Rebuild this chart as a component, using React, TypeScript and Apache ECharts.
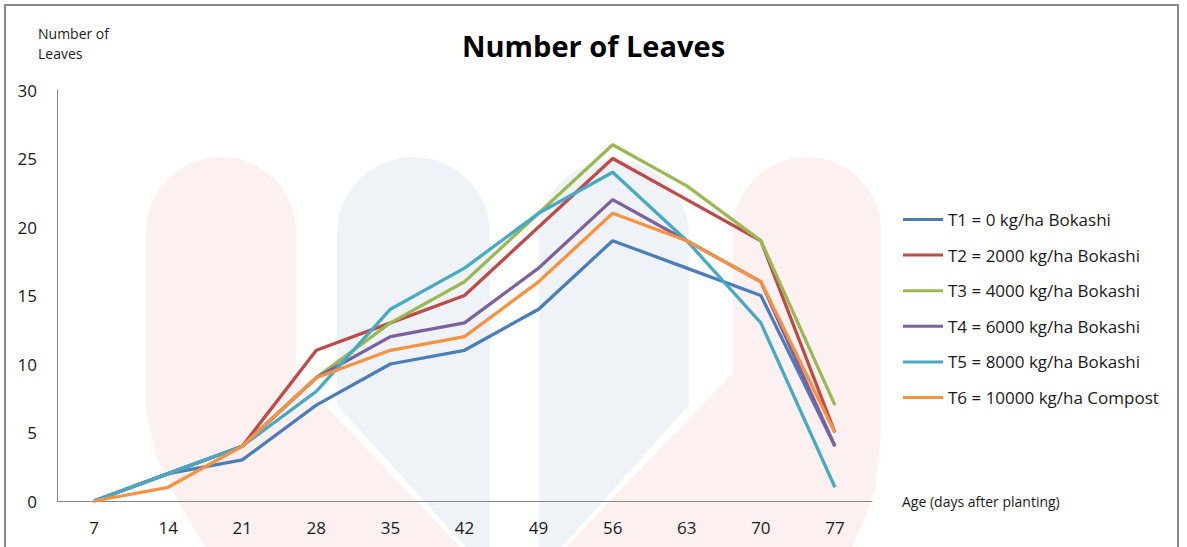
import React, { useEffect, useRef } from "react";
import * as echarts from "echarts";

// Age of the plants in days after planting
const days = ["7", "14", "21", "28", "35", "42", "49", "56", "63", "70", "77"];

// Mean number of leaves per treatment
const t1 = [0, 2, 3, 7, 10, 11, 14, 19, 17, 15, 4];
const t2 = [0, 2, 4, 11, 13, 15, 20, 25, 22, 19, 5];
const t3 = [0, 2, 4, 9, 13, 16, 21, 26, 23, 19, 7];
const t4 = [0, 2, 4, 9, 12, 13, 17, 22, 19, 16, 4];
const t5 = [0, 2, 4, 8, 14, 17, 21, 24, 19, 13, 1];
const t6 = [0, 1, 4, 9, 11, 12, 16, 21, 19, 16, 5];

const seriesNames = [
  "T1 = 0 kg/ha Bokashi",
  "T2 = 2000 kg/ha Bokashi",
  "T3 = 4000 kg/ha Bokashi",
  "T4 = 6000 kg/ha Bokashi",
  "T5 = 8000 kg/ha Bokashi",
  "T6 = 10000 kg/ha Compost",
];
const seriesData = [t1, t2, t3, t4, t5, t6];
const seriesColors = ["#4A7EBB", "#BE4B48", "#98B954", "#7D60A0", "#46AAC5", "#F69240"];

const FONT = "'Open Sans', sans-serif";

// Rounded arch outline, used for the pale background emblem
function arch(cx: number, top: number, rx: number, ry: number): number[][] {
  const pts: number[][] = [];
  const n = 24;
  for (let i = 0; i <= n; i++) {
    const a = Math.PI - (Math.PI * i) / n;
    pts.push([cx + rx * Math.cos(a), top + ry - ry * Math.sin(a)]);
  }
  return pts;
}

function emblem() {
  const red = "#fdf0f0";
  const blue = "#eff3f8";
  const shapes = [
    {
      fill: red,
      pts: [
        ...arch(221, 157, 75, 75),
        [296, 375],
        [460, 547],
        [205, 547],
        [178, 500],
        [156, 455],
        [146, 410],
      ],
    },
    {
      fill: blue,
      pts: [...arch(413.5, 157, 76.5, 76), [490, 547], [466, 547], [337, 405]],
    },
    {
      fill: blue,
      pts: [...arch(614, 160, 75, 75), [689, 405], [562, 547], [539, 547]],
    },
    {
      fill: red,
      pts: [
        ...arch(807, 157, 74, 74),
        [881, 430],
        [875, 490],
        [862, 525],
        [852, 547],
        [566, 547],
        [733, 373],
      ],
    },
  ];
  return shapes.map((s) => ({
    type: "polygon",
    z: -10,
    silent: true,
    shape: { points: s.pts },
    style: { fill: s.fill },
  }));
}

export default function App() {
  const ref = useRef<HTMLDivElement>(null);

  useEffect(() => {
    if (!ref.current) return;
    const chart = echarts.init(ref.current, null, { renderer: "svg" });
    chart.setOption({
      animation: false,
      backgroundColor: "#ffffff",
      title: {
        text: "Number of Leaves",
        left: "center",
        top: 26,
        textStyle: { fontFamily: FONT, fontSize: 29, fontWeight: "bold", color: "#000" },
      },
      grid: { left: 57, right: 315, top: 90, bottom: 46, containLabel: false },
      legend: {
        orient: "vertical",
        left: 903,
        top: 211,
        padding: 0,
        icon: "rect",
        itemWidth: 40,
        itemHeight: 3,
        itemGap: 18.6,
        data: seriesNames,
        textStyle: { fontFamily: FONT, fontSize: 17, color: "#1a1a1a", lineHeight: 16 },
      },
      xAxis: {
        type: "category",
        data: days,
        boundaryGap: true,
        name: "Age (days after planting)",
        nameLocation: "end",
        nameGap: 30,
        nameTextStyle: { fontFamily: FONT, fontSize: 14, color: "#1a1a1a", verticalAlign: "middle" },
        axisLine: { lineStyle: { color: "#868686", width: 1 } },
        axisTick: { show: false },
        axisLabel: { fontFamily: FONT, fontSize: 17, color: "#1a1a1a", margin: 18 },
        splitLine: { show: false },
      },
      yAxis: {
        type: "value",
        min: 0,
        max: 30,
        interval: 5,
        axisLine: { show: true, lineStyle: { color: "#868686", width: 1 } },
        axisTick: { show: false },
        axisLabel: { fontFamily: FONT, fontSize: 17, color: "#1a1a1a", margin: 20 },
        splitLine: { show: false },
      },
      graphic: [
        ...emblem(),
        {
          type: "text",
          left: 38,
          top: 23,
          silent: true,
          style: {
            text: "Number of\nLeaves",
            font: `14px ${FONT}`,
            fill: "#1a1a1a",
            lineHeight: 20,
          },
        },
        {
          type: "rect",
          silent: true,
          z: 100,
          shape: { x: 5, y: 5, width: 1173, height: 600 },
          style: { fill: "none", stroke: "#8a8a8a", lineWidth: 2 },
        },
      ],
      series: seriesNames.map((name, i) => ({
        name,
        type: "line",
        data: seriesData[i],
        symbol: "none",
        color: seriesColors[i],
        lineStyle: { width: 3.3, color: seriesColors[i] },
      })),
    });
    return () => chart.dispose();
  }, []);

  return (
    <div
      ref={ref}
      style={{ position: "absolute", left: 0, top: 0, width: 1187, height: 547 }}
    />
  );
}
